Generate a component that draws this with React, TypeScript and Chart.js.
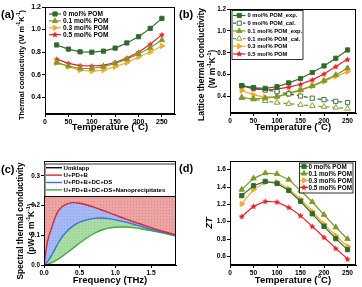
import React, { useEffect, useRef } from 'react';
import { Chart, registerables } from 'chart.js';
Chart.register(...registerables);

const FONT = "'Liberation Sans', Arial, sans-serif";

// ---------- data ----------
const temps = [25, 50, 75, 100, 125, 150, 175, 200, 225, 250];
const tempTicks = [0, 50, 100, 150, 200, 250];

// (a) thermal conductivity
const kA0 = [0.863, 0.826, 0.802, 0.799, 0.808, 0.835, 0.881, 0.936, 1.01, 1.099];
const kA01 = [0.706, 0.676, 0.654, 0.654, 0.67, 0.70, 0.737, 0.783, 0.838, 0.906];
const kA03 = [0.706, 0.67, 0.64, 0.63, 0.64, 0.67, 0.706, 0.756, 0.80, 0.854];
const kA05 = [0.737, 0.70, 0.679, 0.676, 0.682, 0.707, 0.746, 0.799, 0.869, 0.955];
const yTicksAB = [0.4, 0.6, 0.8, 1.0, 1.2];

// (b) lattice thermal conductivity
const kL0exp = [0.50, 0.48, 0.475, 0.49, 0.525, 0.565, 0.62, 0.68, 0.75, 0.826];
const kL0cal = [0.50, 0.48, 0.46, 0.445, 0.425, 0.405, 0.385, 0.372, 0.357, 0.345];
const kL01exp = [0.39, 0.38, 0.385, 0.40, 0.431, 0.461, 0.498, 0.546, 0.598, 0.66];
const kL01cal = [0.39, 0.376, 0.36, 0.345, 0.335, 0.325, 0.315, 0.308, 0.30, 0.29];
const kL03 = [0.455, 0.415, 0.395, 0.40, 0.42, 0.455, 0.495, 0.537, 0.585, 0.628];
const kL05 = [0.50, 0.47, 0.46, 0.468, 0.486, 0.513, 0.553, 0.607, 0.674, 0.74];

// (c) spectral thermal conductivity
const freqs = [0, 0.05, 0.1, 0.15, 0.2, 0.25, 0.3, 0.4, 0.5, 0.6, 0.7, 0.8, 0.9, 1.0, 1.1, 1.2, 1.3, 1.4, 1.5, 1.6, 1.7, 1.85];
const umklapp = [0.232, 0.232, 0.232, 0.232, 0.232, 0.232, 0.232, 0.232, 0.232, 0.232, 0.232, 0.232, 0.232, 0.232, 0.232, 0.232, 0.232, 0.232, 0.232, 0.232, 0.232, 0.232];
const uPdB = [0, 0.08, 0.12, 0.156, 0.182, 0.195, 0.203, 0.21, 0.208, 0.202, 0.195, 0.186, 0.177, 0.168, 0.159, 0.15, 0.142, 0.134, 0.126, 0.118, 0.111, 0.102];
const uPdBDcDs = [0, 0.012, 0.03, 0.052, 0.074, 0.093, 0.108, 0.13, 0.144, 0.152, 0.157, 0.158, 0.156, 0.152, 0.147, 0.141, 0.134, 0.127, 0.12, 0.114, 0.108, 0.10];
const uNano = [0, 0.002, 0.007, 0.013, 0.02, 0.028, 0.037, 0.055, 0.074, 0.091, 0.106, 0.117, 0.124, 0.127, 0.128, 0.127, 0.124, 0.12, 0.116, 0.111, 0.106, 0.097];
const yTicksC = [0.0, 0.1, 0.2, 0.3];
const xTicksC = [0.0, 0.5, 1.0, 1.5];

// (d) ZT
const zt0 = [1.30, 1.415, 1.465, 1.44, 1.36, 1.235, 1.09, 0.946, 0.804, 0.677];
const zt01 = [1.37, 1.50, 1.56, 1.55, 1.485, 1.36, 1.227, 1.08, 0.935, 0.80];
const zt03 = [1.204, 1.37, 1.454, 1.458, 1.38, 1.26, 1.12, 0.973, 0.838, 0.715];
const zt05 = [1.06, 1.177, 1.235, 1.227, 1.165, 1.07, 0.946, 0.82, 0.692, 0.569];
const yTicksD = [0.6, 0.8, 1.0, 1.2, 1.4, 1.6];

// ---------- styles ----------
const C0 = '#2f6a2c';
const C01 = '#7b9a2a';
const C03 = '#f2aa2c';
const C05 = '#e3202a';

type Marker = 'square' | 'triangle' | 'rtriangle' | 'star' | 'none';
interface LItem { label: string; color: string; marker: Marker; open?: boolean; dash?: number[] }
interface Run { t: string; sup?: boolean }
interface TitleLine { runs: Run[]; x: number; y: number; rotate: boolean; size: number; len?: number; italic?: boolean }

function starPath(g: CanvasRenderingContext2D, cx: number, cy: number, r: number) {
  g.beginPath();
  for (let i = 0; i < 10; i++) {
    const ang = -Math.PI / 2 + (i * Math.PI) / 5;
    const rr = i % 2 === 0 ? r : r * 0.45;
    g.lineTo(cx + rr * Math.cos(ang), cy + rr * Math.sin(ang));
  }
  g.closePath();
}

function makeStar(color: string, r: number) {
  const s = Math.ceil(r * 2 + 2);
  const c = document.createElement('canvas');
  c.width = s; c.height = s;
  const g = c.getContext('2d')!;
  starPath(g, s / 2, s / 2 + 0.3, r);
  g.fillStyle = color;
  g.fill();
  return c;
}

function makePattern(base: string, dot: string) {
  const c = document.createElement('canvas');
  c.width = 3; c.height = 3;
  const g = c.getContext('2d')!;
  g.fillStyle = base; g.fillRect(0, 0, 3, 3);
  g.fillStyle = dot; g.fillRect(1, 1, 1, 1);
  return g.createPattern(c, 'repeat')!;
}

function drawMarker(g: CanvasRenderingContext2D, m: Marker, x: number, y: number, color: string, open?: boolean) {
  g.save();
  g.setLineDash([]);
  g.fillStyle = open ? '#fff' : color;
  g.strokeStyle = color;
  g.lineWidth = 0.9;
  if (m === 'square') {
    g.beginPath(); g.rect(x - 2.1, y - 2.1, 4.2, 4.2); g.fill(); g.stroke();
  } else if (m === 'triangle') {
    g.beginPath(); g.moveTo(x, y - 3); g.lineTo(x + 2.7, y + 1.6); g.lineTo(x - 2.7, y + 1.6); g.closePath(); g.fill(); g.stroke();
  } else if (m === 'rtriangle') {
    g.beginPath(); g.moveTo(x + 3, y); g.lineTo(x - 1.6, y + 2.7); g.lineTo(x - 1.6, y - 2.7); g.closePath(); g.fill(); g.stroke();
  } else if (m === 'star') {
    starPath(g, x, y, 3.4); g.fill();
  }
  g.restore();
}

interface LegendCfg {
  items: LItem[]; x: number; y: number; rowH: number; lineLen: number; textX: number; fontSize: number;
  box?: { x: number; y: number; w: number; h: number }; lineWidth?: number;
}

function legendPlugin(cfg: LegendCfg) {
  return {
    id: 'customLegend',
    afterDraw(chart: any) {
      const g: CanvasRenderingContext2D = chart.ctx;
      g.save();
      if (cfg.box) {
        g.fillStyle = '#fff';
        g.fillRect(cfg.box.x, cfg.box.y, cfg.box.w, cfg.box.h);
        g.strokeStyle = '#000';
        g.lineWidth = 0.8;
        g.strokeRect(cfg.box.x + 0.5, cfg.box.y + 0.5, cfg.box.w, cfg.box.h);
      }
      cfg.items.forEach((it, i) => {
        const y = cfg.y + i * cfg.rowH;
        g.strokeStyle = it.color;
        g.lineWidth = cfg.lineWidth ?? 1.2;
        g.setLineDash(it.dash || []);
        g.beginPath(); g.moveTo(cfg.x, y); g.lineTo(cfg.x + cfg.lineLen, y); g.stroke();
        if (it.marker !== 'none') drawMarker(g, it.marker, cfg.x + cfg.lineLen / 2, y, it.color, it.open);
        g.setLineDash([]);
        g.fillStyle = '#000';
        g.font = `bold ${cfg.fontSize}px ${FONT}`;
        g.textBaseline = 'middle';
        g.textAlign = 'left';
        g.fillText(it.label, cfg.textX, y + 0.3);
      });
      g.restore();
    },
  };
}

function titlesPlugin(lines: TitleLine[]) {
  return {
    id: 'axisTitles',
    afterDraw(chart: any) {
      const g: CanvasRenderingContext2D = chart.ctx;
      lines.forEach((ln) => {
        const style = ln.italic ? 'italic ' : '';
        const fontOf = (fs: number, sup?: boolean) => `${style}bold ${sup ? fs * 0.62 : fs}px ${FONT}`;
        const measure = (fs: number) => ln.runs.reduce((acc, r) => { g.font = fontOf(fs, r.sup); return acc + g.measureText(r.t).width; }, 0);
        let fs = ln.size;
        if (ln.len) fs = (ln.size * ln.len) / measure(ln.size);
        const total = measure(fs);
        g.save();
        g.translate(ln.x, ln.y);
        if (ln.rotate) g.rotate(-Math.PI / 2);
        g.fillStyle = '#000';
        g.textBaseline = 'middle';
        g.textAlign = 'left';
        let x = -total / 2;
        ln.runs.forEach((r) => {
          g.font = fontOf(fs, r.sup);
          g.fillText(r.t, x, r.sup ? -fs * 0.36 : 0);
          x += g.measureText(r.t).width;
        });
        g.restore();
      });
    },
  };
}

const boxPlugin = {
  id: 'frameBox',
  afterDatasetsDraw(chart: any) {
    const { left, top, right, bottom } = chart.chartArea;
    const g: CanvasRenderingContext2D = chart.ctx;
    g.save();
    g.strokeStyle = '#000';
    g.lineWidth = 1;
    g.strokeRect(Math.round(left) + 0.5, Math.round(top) + 0.5, Math.round(right - left) - 1, Math.round(bottom - top) - 1);
    g.restore();
  },
};

interface PanelGeom { W: number; H: number; L: number; R: number; T: number; B: number }

function axisCommon(fixed: number[], fmt: (v: number) => string, fs: number) {
  return {
    afterBuildTicks: (s: any) => { s.ticks = fixed.map((v) => ({ value: v })); },
    ticks: { font: { family: FONT, size: fs, weight: 'bold' as const }, color: '#000', padding: 1, callback: (v: any) => fmt(Number(v)), autoSkip: false, maxRotation: 0 },
    grid: { display: true, drawOnChartArea: false, drawTicks: true, tickLength: 3, color: '#000', lineWidth: 1 },
    border: { display: true, color: '#000', width: 1 },
  };
}

function makeOptions(geo: PanelGeom, x: any, y: any) {
  return {
    responsive: false,
    animation: false as const,
    events: [],
    layout: { padding: { top: geo.T, right: geo.W - geo.R, left: 0, bottom: 0 } },
    plugins: { legend: { display: false }, tooltip: { enabled: false } },
    scales: {
      x: { type: 'linear' as const, ...x, afterFit: (s: any) => { s.height = geo.H - geo.B; } },
      y: { type: 'linear' as const, ...y, afterFit: (s: any) => { s.width = geo.L; } },
    },
  };
}

function xy(xs: number[], ys: number[]) {
  return xs.map((x, i) => ({ x, y: ys[i] }));
}

function ptDs(label: string, ys: number[], color: string, marker: Marker, star: HTMLCanvasElement, open = false, dash: number[] = []) {
  let pointStyle: any = 'rect';
  let rot = 0;
  let radius = 3;
  if (marker === 'triangle') { pointStyle = 'triangle'; radius = 3.2; }
  if (marker === 'rtriangle') { pointStyle = 'triangle'; rot = 90; radius = 3.2; }
  if (marker === 'star') { pointStyle = star; }
  return {
    label,
    data: xy(temps, ys),
    borderColor: color,
    backgroundColor: color,
    borderWidth: 1.2,
    borderDash: dash,
    pointStyle,
    pointRotation: rot,
    pointRadius: radius,
    pointBorderWidth: 0.9,
    pointBorderColor: color,
    pointBackgroundColor: open ? '#fff' : color,
    tension: 0,
    fill: false,
  };
}

const tempTitle: Run[] = [{ t: 'Temperature (' }, { t: 'o', sup: true }, { t: 'C)' }];
const unitRuns = (pre: string): Run[] => [{ t: pre }, { t: '-1', sup: true }, { t: 'K' }, { t: '-1', sup: true }, { t: ')' }];

export default function App() {
  const ra = useRef<HTMLCanvasElement>(null);
  const rb = useRef<HTMLCanvasElement>(null);
  const rc = useRef<HTMLCanvasElement>(null);
  const rd = useRef<HTMLCanvasElement>(null);

  useEffect(() => {
    document.body.style.margin = '0';
    const star = makeStar(C05, 3.4);
    const charts: Chart[] = [];
    const f1 = (v: number) => v.toFixed(1);
    const f0 = (v: number) => String(Math.round(v));

    // ---- (a) ----
    const gA: PanelGeom = { W: 181, H: 143, L: 45, R: 175, T: 7, B: 114 };
    charts.push(new Chart(ra.current!, {
      type: 'line',
      data: {
        datasets: [
          ptDs('0 mol% POM', kA0, C0, 'square', star),
          ptDs('0.1 mol% POM', kA01, C01, 'triangle', star),
          ptDs('0.3 mol% POM', kA03, C03, 'rtriangle', star),
          ptDs('0.5 mol% POM', kA05, C05, 'star', star),
        ],
      },
      options: makeOptions(gA,
        { min: 0, max: 278, ...axisCommon(tempTicks, f0, 7) },
        { min: 0.25, max: 1.2, ...axisCommon(yTicksAB, f1, 7) }) as any,
      plugins: [boxPlugin, titlesPlugin([
        { runs: [{ t: 'Thermal conductivity ' }, ...unitRuns('(W m')], x: 21.7, y: 65, rotate: true, size: 8, len: 110 },
        { runs: tempTitle, x: 110, y: 127, rotate: false, size: 9.5 },
      ]), legendPlugin({
        items: [
          { label: '0 mol% POM', color: C0, marker: 'square' },
          { label: '0.1 mol% POM', color: C01, marker: 'triangle' },
          { label: '0.3 mol% POM', color: C03, marker: 'rtriangle' },
          { label: '0.5 mol% POM', color: C05, marker: 'star' },
        ],
        x: 49, y: 14, rowH: 6.9, lineLen: 12, textX: 63, fontSize: 6.6,
      })],
    }));

    // ---- (b) ----
    const gB: PanelGeom = { W: 181, H: 143, L: 49, R: 175, T: 9, B: 113 };
    charts.push(new Chart(rb.current!, {
      type: 'line',
      data: {
        datasets: [
          ptDs('0 mol% POM_exp.', kL0exp, C0, 'square', star),
          ptDs('0 mol% POM_cal.', kL0cal, C0, 'square', star, true, [4, 3]),
          ptDs('0.1 mol% POM_exp.', kL01exp, C01, 'triangle', star),
          ptDs('0.1 mol% POM_cal.', kL01cal, C01, 'triangle', star, true, [4, 3]),
          ptDs('0.3 mol% POM', kL03, C03, 'rtriangle', star),
          ptDs('0.5 mol% POM', kL05, C05, 'star', star),
        ],
      },
      options: makeOptions(gB,
        { min: 0, max: 268, ...axisCommon(tempTicks, f0, 6.6) },
        { min: 0.25, max: 1.2, ...axisCommon(yTicksAB, f1, 6.3) }) as any,
      plugins: [boxPlugin, titlesPlugin([
        { runs: [{ t: 'Lattice thermal conductivity' }], x: 20.2, y: 64.5, rotate: true, size: 8.4, len: 113 },
        { runs: unitRuns('(W m'), x: 32, y: 69, rotate: true, size: 8.4 },
        { runs: tempTitle, x: 112, y: 127, rotate: false, size: 9.5 },
      ]), legendPlugin({
        items: [
          { label: '0 mol% POM_exp.', color: C0, marker: 'square' },
          { label: '0 mol% POM_cal.', color: C0, marker: 'square', open: true, dash: [3, 2] },
          { label: '0.1 mol% POM_exp.', color: C01, marker: 'triangle' },
          { label: '0.1 mol% POM_cal.', color: C01, marker: 'triangle', open: true, dash: [3, 2] },
          { label: '0.3 mol% POM', color: C03, marker: 'rtriangle' },
          { label: '0.5 mol% POM', color: C05, marker: 'star' },
        ],
        x: 52, y: 15.5, rowH: 7.7, lineLen: 12.5, textX: 66.5, fontSize: 5.8,
        box: { x: 50.5, y: 10, w: 71, h: 49 },
      })],
    }));

    // ---- (c) ----
    const gC: PanelGeom = { W: 181, H: 144, L: 44, R: 176, T: 18, B: 122 };
    const lineDs = (label: string, ys: number[], color: string, fill: any, bg: any) => ({
      label, data: xy(freqs, ys), borderColor: color, backgroundColor: bg, borderWidth: 1.4,
      pointRadius: 0, tension: 0.4, cubicInterpolationMode: 'monotone', fill,
    });
    const pink = makePattern('#eba5a4', '#d98584');
    const blue = makePattern('#a6b9f4', '#8ea5ec');
    const green = makePattern('#a9dba3', '#93cc8d');
    charts.push(new Chart(rc.current!, {
      type: 'line',
      data: {
        datasets: [
          lineDs('Umklapp', umklapp, '#111', false, 'transparent'),
          lineDs('U+PD+B', uPdB, '#d9262b', 0, pink),
          lineDs('U+PD+B+DC+DS', uPdBDcDs, '#3c6fe0', 1, blue),
          lineDs('U+PD+B+DC+DS+Nanoprecipitates', uNano, '#45a845', 2, green),
        ],
      },
      options: makeOptions(gC,
        { min: 0, max: 1.85, ...axisCommon(xTicksC, f1, 6.6) },
        { min: 0, max: 0.35, ...axisCommon(yTicksC, f1, 6.3) }) as any,
      plugins: [boxPlugin, titlesPlugin([
        { runs: [{ t: 'Spectral thermal conductivity' }], x: 20.8, y: 78, rotate: true, size: 8.4, len: 117 },
        { runs: unitRuns('(pW-s m'), x: 31.8, y: 86, rotate: true, size: 8.4 },
        { runs: [{ t: 'Frequency (THz)' }], x: 110, y: 137, rotate: false, size: 9.5 },
      ]), legendPlugin({
        items: [
          { label: 'Umklapp', color: '#111', marker: 'none' },
          { label: 'U+PD+B', color: '#d9262b', marker: 'none' },
          { label: 'U+PD+B+DC+DS', color: '#3c6fe0', marker: 'none' },
          { label: 'U+PD+B+DC+DS+Nanoprecipitates', color: '#45a845', marker: 'none' },
        ],
        x: 46, y: 24.7, rowH: 7.4, lineLen: 16, textX: 63.5, fontSize: 6.1, lineWidth: 1.4,
        box: { x: 44.5, y: 20.5, w: 130.5, h: 32.5 },
      })],
    }));

    // ---- (d) ----
    const gD: PanelGeom = { W: 181, H: 144, L: 49, R: 175, T: 18, B: 122 };
    charts.push(new Chart(rd.current!, {
      type: 'line',
      data: {
        datasets: [
          ptDs('0 mol% POM', zt0, C0, 'square', star),
          ptDs('0.1 mol% POM', zt01, C01, 'triangle', star),
          ptDs('0.3 mol% POM', zt03, C03, 'rtriangle', star),
          ptDs('0.5 mol% POM', zt05, C05, 'star', star),
        ],
      },
      options: makeOptions(gD,
        { min: 0, max: 268, ...axisCommon(tempTicks, f0, 6.6) },
        { min: 0.5, max: 1.7, ...axisCommon(yTicksD, f1, 6.6) }) as any,
      plugins: [boxPlugin, titlesPlugin([
        { runs: [{ t: 'ZT' }], x: 28, y: 80, rotate: true, size: 9.5, italic: true },
        { runs: tempTitle, x: 112, y: 137, rotate: false, size: 9.5 },
      ]), legendPlugin({
        items: [
          { label: '0 mol% POM', color: C0, marker: 'square' },
          { label: '0.1 mol% POM', color: C01, marker: 'triangle' },
          { label: '0.3 mol% POM', color: C03, marker: 'rtriangle' },
          { label: '0.5 mol% POM', color: C05, marker: 'star' },
        ],
        x: 119, y: 23.5, rowH: 7, lineLen: 8, textX: 127.5, fontSize: 6.3,
        box: { x: 118, y: 19.5, w: 53.5, h: 30 },
      })],
    }));

    return () => { charts.forEach((c) => c.destroy()); };
  }, []);

  const lbl = (x: number, y: number, t: string) => (
    <div style={{ position: 'absolute', left: x, top: y, font: `bold 11px ${FONT}`, color: '#000', lineHeight: '12px' }}>{t}</div>
  );

  return (
    <div style={{ position: 'absolute', left: 0, top: 0, width: 362, height: 287, background: '#fff', overflow: 'hidden' }}>
      <canvas ref={ra} width={181} height={143} style={{ position: 'absolute', left: 0, top: 0 }} />
      <canvas ref={rb} width={181} height={143} style={{ position: 'absolute', left: 181, top: 0 }} />
      <canvas ref={rc} width={181} height={144} style={{ position: 'absolute', left: 0, top: 143 }} />
      <canvas ref={rd} width={181} height={144} style={{ position: 'absolute', left: 181, top: 143 }} />
      {lbl(1, 8, '(a)')}
      {lbl(179, 8, '(b)')}
      {lbl(1, 163, '(c)')}
      {lbl(179, 162, '(d)')}
    </div>
  );
}
